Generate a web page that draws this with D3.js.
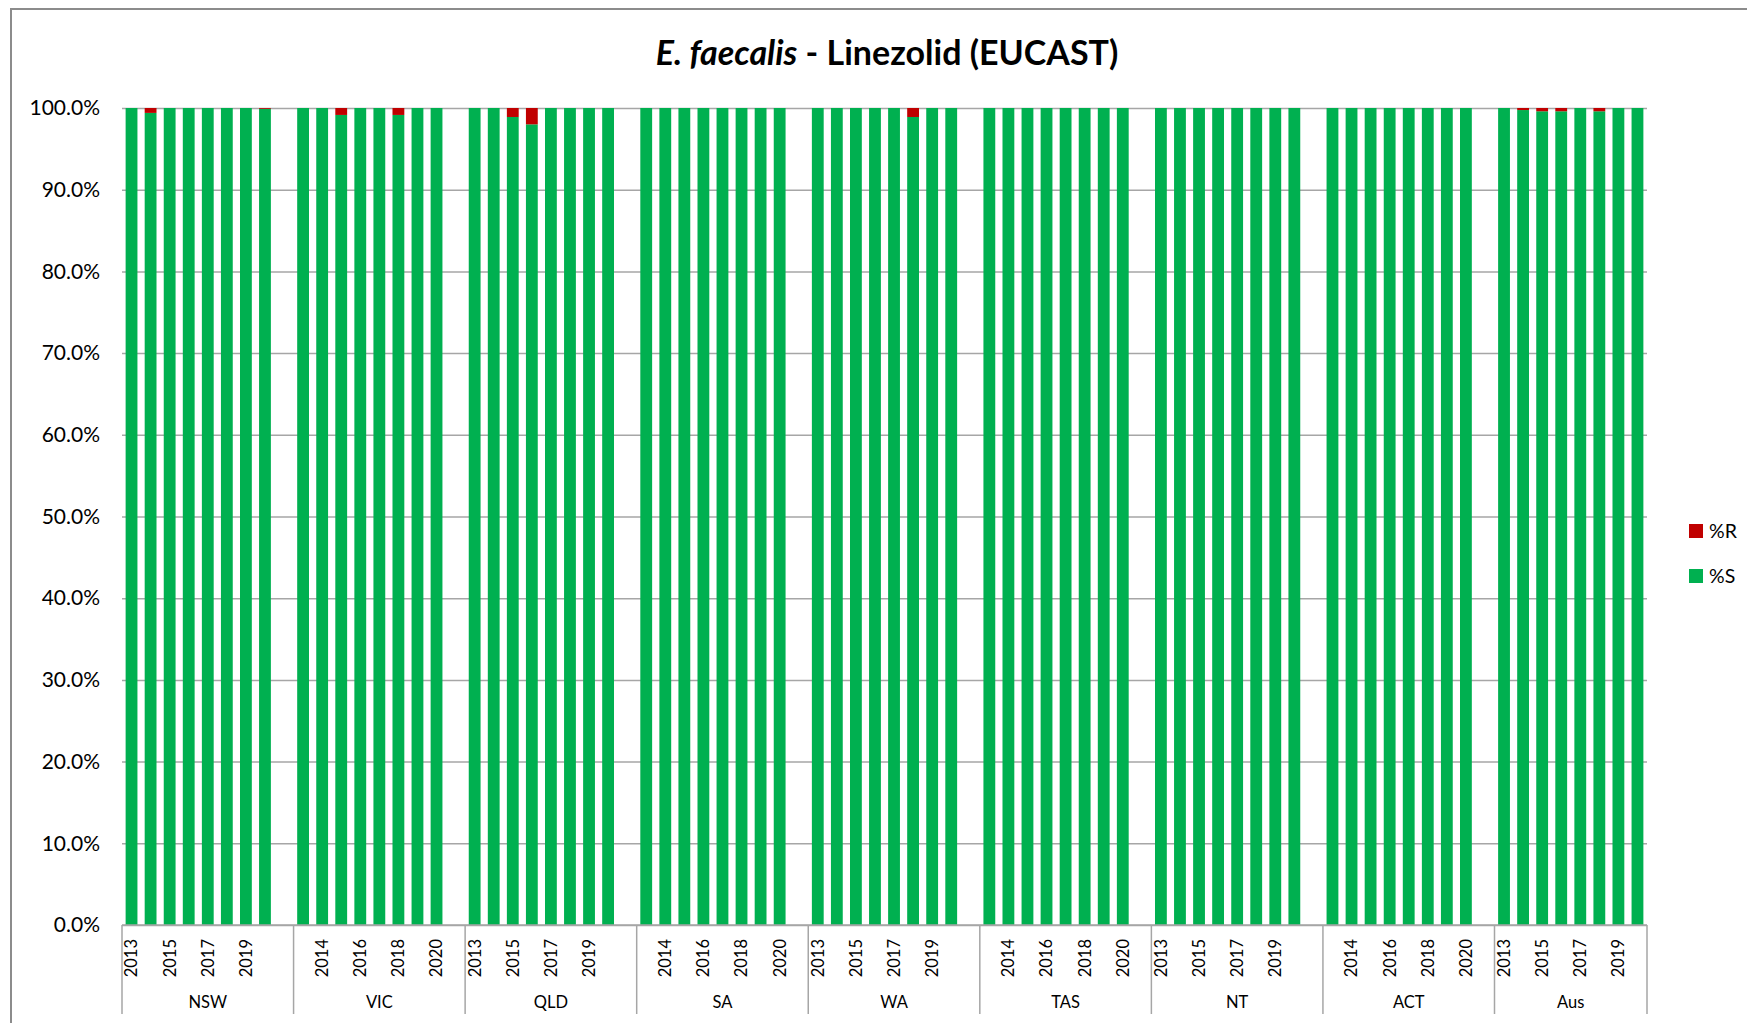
<!DOCTYPE html>
<html>
<head>
<meta charset="utf-8">
<script src="https://cdn.jsdelivr.net/npm/d3@7"></script>
<style>
  html, body { margin: 0; padding: 0; background: #fff; }
  svg { display: block; font-family: Lato, "Open Sans", sans-serif; }
</style>
</head>
<body>
<svg id="chart" width="1747" height="1023"></svg>
<script>
// Regions and surveillance years
const regions = ["NSW", "VIC", "QLD", "SA", "WA", "TAS", "NT", "ACT", "Aus"];
const years = ["2013", "2014", "2015", "2016", "2017", "2018", "2019", "2020"];

// Percent resistant (%R) per region, by year 2013–2020
const rNSW = [0, 0.6, 0, 0, 0, 0, 0, 0.1];
const rVIC = [0, 0, 0.85, 0, 0, 0.85, 0, 0];
const rQLD = [0, 0, 1.1, 2.0, 0, 0, 0, 0];
const rSA  = [0, 0, 0, 0, 0, 0, 0, 0];
const rWA  = [0, 0, 0, 0, 0, 1.1, 0, 0];
const rTAS = [0, 0, 0, 0, 0, 0, 0, 0];
const rNT  = [0, 0, 0, 0, 0, 0, 0, 0];
const rACT = [0, 0, 0, 0, 0, 0, 0, 0];
const rAus = [0, 0.25, 0.4, 0.4, 0, 0.4, 0, 0];
const resistantByRegion = [rNSW, rVIC, rQLD, rSA, rWA, rTAS, rNT, rACT, rAus];

// Y axis ticks (percent)
const yTicks = [0, 10, 20, 30, 40, 50, 60, 70, 80, 90, 100];

const seriesNames = ["%R", "%S"];
const seriesColors = { "%R": "#C00000", "%S": "#00B050" };

// Flatten into category slots: each region gets its years plus an empty spacer slot
const slots = [];
regions.forEach((region, gi) => {
  years.forEach((year, yi) => {
    const r = resistantByRegion[gi][yi];
    slots.push({ key: region + "-" + year, region, year, r, s: 100 - r });
  });
  if (gi < regions.length - 1) slots.push({ key: region + "-gap", region, year: "", r: null, s: null });
});
slots.forEach((d, i) => { d.index = i; });

const svg = d3.select("#chart");
const margin = { left: 122, right: 100, top: 108, bottom: 98 };
const W = 1747, H = 1023;
const plotRight = W - margin.right;
const plotBottom = H - margin.bottom;

// Outer chart frame
svg.append("path")
  .attr("d", `M11,${H + 5} L11,9 L${W + 5},9`)
  .attr("fill", "none").attr("stroke", "#8c8c8c").attr("stroke-width", 2);

// Title
const title = svg.append("text")
  .attr("x", 887).attr("y", 65)
  .attr("text-anchor", "middle")
  .attr("font-size", 34).attr("font-weight", "bold").attr("fill", "#000");
title.append("tspan").attr("font-style", "italic").text("E. faecalis");
title.append("tspan").text(" - Linezolid (EUCAST)");

const x = d3.scaleBand()
  .domain(slots.map(d => d.key))
  .range([margin.left, plotRight])
  .paddingInner(0.38)
  .paddingOuter(0.19);

const y = d3.scaleLinear().domain([0, 100]).range([plotBottom, margin.top]);

// Gridlines and y labels
const yAxis = svg.append("g")
  .attr("transform", `translate(${margin.left},0)`)
  .call(d3.axisLeft(y).tickValues(yTicks)
    .tickSize(-(plotRight - margin.left)).tickPadding(22)
    .tickFormat(d => d.toFixed(1) + "%"));
yAxis.select(".domain").remove();
yAxis.selectAll(".tick line").attr("stroke", "#a6a6a6").attr("stroke-width", 1.5);
yAxis.selectAll(".tick text").attr("font-size", 21).attr("fill", "#000")
  .attr("font-family", "Lato, sans-serif");

// Stacked bars
const bars = slots.filter(d => d.r !== null);
svg.append("g").selectAll("rect.s").data(bars).join("rect")
  .attr("x", d => x(d.key)).attr("width", x.bandwidth())
  .attr("y", d => y(d.s)).attr("height", d => y(0) - y(d.s))
  .attr("fill", seriesColors["%S"]);
svg.append("g").selectAll("rect.r").data(bars.filter(d => d.r > 0)).join("rect")
  .attr("x", d => x(d.key)).attr("width", x.bandwidth())
  .attr("y", d => y(d.s + d.r)).attr("height", d => y(d.s) - y(d.s + d.r))
  .attr("fill", seriesColors["%R"]);

// Category axis: year labels (every other slot) and region groups
const step = x.step();
const slotLeft = d => x(d.key) - x.paddingInner() * step / 2;
svg.append("line")
  .attr("x1", margin.left).attr("x2", plotRight)
  .attr("y1", plotBottom).attr("y2", plotBottom)
  .attr("stroke", "#a6a6a6").attr("stroke-width", 1.5);

svg.append("g").selectAll("text").data(slots.filter(d => d.index % 2 === 0 && d.year)).join("text")
  .attr("transform", d => `translate(${x(d.key) + x.bandwidth() / 2},${plotBottom + 14}) rotate(-90)`)
  .attr("text-anchor", "end").attr("dy", "0.36em")
  .attr("font-size", 16.5).attr("fill", "#000")
  .text(d => d.year);

// Region group spans and dividers
const groups = regions.map(region => {
  const members = slots.filter(d => d.region === region);
  const first = members[0], last = members[members.length - 1];
  return { region, x0: slotLeft(first), x1: slotLeft(last) + step };
});
const dividers = [groups[0].x0, ...groups.map(g => g.x1)];
svg.append("g").selectAll("line").data(dividers).join("line")
  .attr("x1", d => d).attr("x2", d => d)
  .attr("y1", plotBottom).attr("y2", 1014)
  .attr("stroke", "#a6a6a6").attr("stroke-width", 1.5);
svg.append("g").selectAll("text").data(groups).join("text")
  .attr("x", d => (d.x0 + d.x1) / 2).attr("y", 1002)
  .attr("text-anchor", "middle").attr("dy", "0.35em")
  .attr("font-size", 16.5).attr("fill", "#000")
  .text(d => d.region);

// Legend
const legend = svg.append("g").attr("transform", "translate(1689,524)");
seriesNames.forEach((name, i) => {
  const g = legend.append("g").attr("transform", `translate(0,${i * 45})`);
  g.append("rect").attr("width", 14).attr("height", 14).attr("fill", seriesColors[name]);
  g.append("text").attr("x", 20).attr("y", 7).attr("dy", "0.36em")
    .attr("font-size", 19.5).attr("fill", "#000").text(name);
});
</script>
</body>
</html>
